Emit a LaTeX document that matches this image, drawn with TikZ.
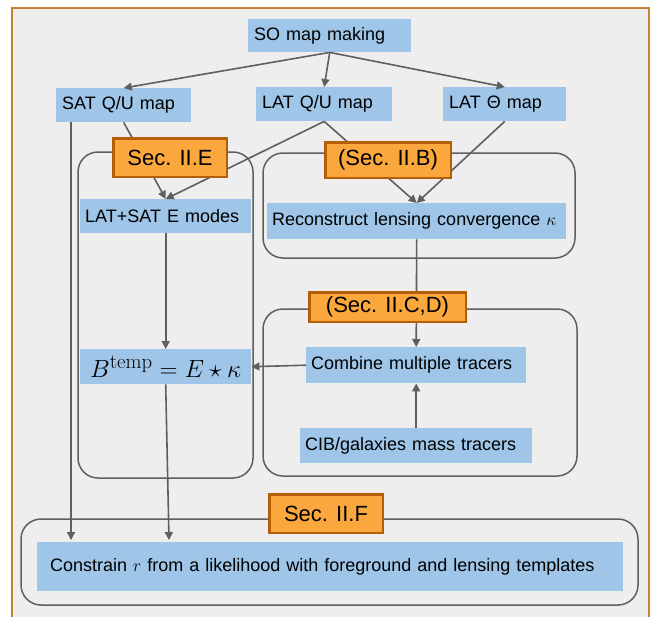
\documentclass[tikz,border=0pt]{standalone}
\usepackage[no-math]{fontspec}
\setmainfont{Liberation Sans}
\usepackage{tikz}
\usetikzlibrary{arrows.meta}
\definecolor{mybox}{RGB}{159,197,232}
\definecolor{mysec}{RGB}{250,168,62}
\definecolor{mysecdark}{RGB}{180,95,6}
\definecolor{myframe}{RGB}{196,130,50}
\definecolor{mypanel}{RGB}{238,238,238}
\definecolor{mygrey}{RGB}{95,95,95}
\tikzset{
  block/.style={rectangle, fill=mybox, anchor=north west, align=left,
    inner xsep=6pt, inner ysep=0pt, font=\fontsize{18}{21}\selectfont},
  secbox/.style={rectangle, draw=mysecdark, fill=mysec, line width=2.5pt,
    inner sep=0pt, font=\fontsize{22}{26}\selectfont},
  group/.style={draw=mygrey, line width=1.5pt, rounded corners=20pt},
  arrow/.style={-{Triangle[length=8pt,width=8pt]}, line width=1.6pt, color=mygrey}
}

\begin{document}
\begin{tikzpicture}[x=1pt, y=-1pt]
  \useasboundingbox (0,0) rectangle (652,616);
  % Outer panel (its lower edge runs off the page)
  \draw[myframe, fill=mypanel, line width=2.5pt] (12,8) rectangle (649,640);

  % Rounded groups behind the sections
  \draw[group] (78,152) rectangle (253,478);
  \draw[group] (263,153) rectangle (575,258);
  \draw[group] (263,309) rectangle (577,476);
  \draw[group] (21,519) rectangle (638,605);

  % Maps
  \node[block, text width=151pt, minimum height=33pt] (so) at (248,19) {SO map making};
  \node[block, text width=123pt, minimum height=34pt] (sat) at (56,88) {SAT Q/U map};
  \node[block, text width=124pt, minimum height=34pt] (latqu) at (256,87) {LAT Q/U map};
  \node[block, text width=111pt, minimum height=34pt] (latth) at (443,87) {LAT Θ map};

  % Templates and tracers
  \node[block, text width=161pt, inner xsep=5pt, minimum height=34pt] (emodes) at (80,199) {LAT+SAT E modes};
  \node[block, text width=289pt, inner xsep=5pt, minimum height=36pt] (recon) at (267,203) {Reconstruct lensing convergence $\kappa$};
  \node[block, text width=210pt, inner xsep=5pt, minimum height=36pt] (combine) at (306,347) {Combine multiple tracers};
  \node[block, text width=222pt, inner xsep=5pt, minimum height=35pt] (cib) at (300,428) {CIB/galaxies mass tracers};
  \node[block, align=center, minimum width=171pt, minimum height=35pt,
    font=\fontsize{28}{32}\selectfont] (btemp) at (80,349) {$B^{\mathrm{temp}} = E \star \kappa$};
  \node[block, text width=560pt, inner xsep=13pt, minimum height=49pt] (constrain) at (37,542)
    {Constrain $r$ from a likelihood with foreground and lensing templates};

  % Connectors
  \draw[arrow] (so.south) -- (sat.north);
  \draw[arrow] (so.south) -- (latqu.north);
  \draw[arrow] (so.south) -- (latth.north);
  \draw[arrow] (sat.south) -- (emodes.north);
  \draw[arrow] (latqu.south) -- (emodes.north);
  \draw[arrow] (latqu.south) -- (recon.north);
  \draw[arrow] (latth.south) -- (recon.north);
  \draw[arrow] (recon.south) -- (combine.north);
  \draw[arrow] (cib.north) -- (combine.south);
  \draw[arrow] (combine.west) -- (btemp.east);
  \draw[arrow] (emodes.south) -- (btemp.north);
  \coordinate (into1) at (71,540);
  \coordinate (into2) at (169,540);
  \draw[arrow] (sat.south -| into1) -- (into1);
  \draw[arrow] (btemp.south) -- (into2);

  % Section labels on top of the groups
  \node[secbox, minimum width=113.5pt, minimum height=38.5pt] (secE) at (170,157.5) {Sec. II.E};
  \node[secbox, minimum width=125.5pt, minimum height=35.5pt] (secB) at (388,160) {(Sec. II.B)};
  \node[secbox, minimum width=156.5pt, minimum height=29.5pt] (secCD) at (387.5,307) {(Sec. II.C,D)};
  \node[secbox, minimum width=113.5pt, minimum height=38.5pt] (secF) at (326,513.5) {Sec. II.F};
\end{tikzpicture}
\end{document}
